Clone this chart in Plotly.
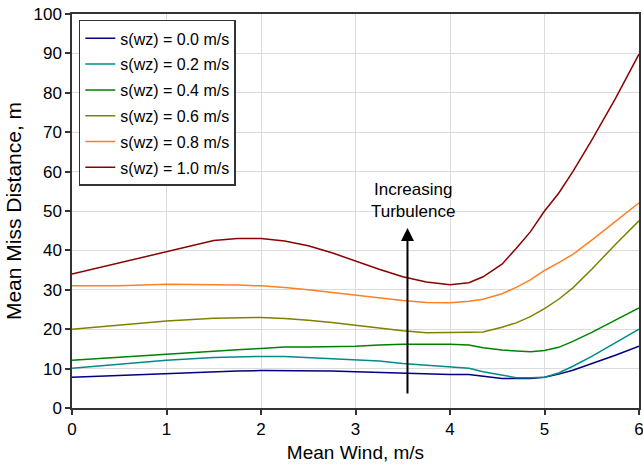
import plotly.graph_objects as go

wind = [0, 0.5, 1, 1.5, 1.75, 2, 2.25, 2.5, 2.75, 3, 3.25, 3.5, 3.75, 4,
        4.2, 4.35, 4.55, 4.7, 4.85, 5, 5.15, 5.3, 5.5, 5.75, 6]

s00 = [7.8, 8.3, 8.8, 9.2, 9.4, 9.5, 9.5, 9.5, 9.4, 9.2, 9.0, 8.8, 8.6, 8.5,
       8.5, 8.1, 7.5, 7.5, 7.5, 7.8, 8.6, 9.6, 11.2, 13.4, 15.7]
s02 = [10.1, 11.1, 12.1, 12.8, 13.0, 13.1, 13.1, 12.8, 12.5, 12.2, 11.9, 11.3, 10.9, 10.6,
       10.1, 9.2, 8.3, 7.7, 7.7, 7.8, 8.9, 10.6, 13.1, 16.5, 20.0]
s04 = [12.1, 12.9, 13.7, 14.5, 14.8, 15.1, 15.5, 15.5, 15.6, 15.7, 16.0, 16.2, 16.2, 16.2,
       16.0, 15.3, 14.7, 14.5, 14.3, 14.6, 15.4, 16.9, 19.2, 22.3, 25.4]
s06 = [20.0, 21.1, 22.1, 22.8, 22.9, 23.0, 22.7, 22.3, 21.7, 21.0, 20.4, 19.6, 19.1, 19.1,
       19.2, 19.3, 20.5, 21.6, 23.2, 25.2, 27.6, 30.5, 35.2, 41.5, 47.5]
s08 = [31.0, 31.0, 31.4, 31.3, 31.2, 31.0, 30.6, 30.0, 29.3, 28.6, 28.0, 27.3, 26.8, 26.7,
       27.1, 27.6, 29.0, 30.6, 32.5, 34.9, 36.9, 39.0, 42.6, 47.3, 52.1]
s10 = [34.0, 36.8, 39.7, 42.5, 43.0, 43.0, 42.4, 41.2, 39.4, 37.2, 35.2, 33.3, 32.0, 31.3,
       31.8, 33.3, 36.5, 40.5, 44.7, 50.0, 54.5, 60.0, 68.0, 78.5, 89.8]

series = [s00, s02, s04, s06, s08, s10]
labels = ["s(wz) = 0.0 m/s", "s(wz) = 0.2 m/s", "s(wz) = 0.4 m/s",
          "s(wz) = 0.6 m/s", "s(wz) = 0.8 m/s", "s(wz) = 1.0 m/s"]
colors = ["#000080", "#008B8B", "#008000", "#808000", "#FF7F27", "#8B0000"]

x_ticks = [0, 1, 2, 3, 4, 5, 6]
y_ticks = [0, 10, 20, 30, 40, 50, 60, 70, 80, 90, 100]

FONT = "Liberation Sans, Arial, sans-serif"

fig = go.Figure()
for i, (vals, lab, col) in enumerate(zip(series, labels, colors)):
    fig.add_trace(go.Scatter(x=wind, y=vals, mode="lines", name=lab,
                             legendgroup=f"g{i}",
                             line=dict(color=col, width=1.5)))

fig.add_annotation(x=3.55, y=45.7, ax=3.55, ay=3.3, xref="x", yref="y",
                   axref="x", ayref="y", text="", showarrow=True,
                   arrowhead=2, arrowsize=1.3, arrowwidth=2, arrowcolor="black")
fig.add_annotation(x=3.61, y=52.6, xref="x", yref="y", text="Increasing<br>Turbulence",
                   showarrow=False, font=dict(family=FONT, size=17, color="black"),
                   align="center")

axis_common = dict(showline=True, mirror=True, linecolor="#333333", linewidth=1.5,
                   ticks="outside", ticklen=5, tickcolor="#333333", tickwidth=1.5,
                   showgrid=True, gridcolor="#dcdcdc", gridwidth=1, zeroline=False,
                   automargin=False, ticklabeloverflow="allow",
                   tickfont=dict(family=FONT, size=17, color="black"))

fig.update_layout(
    width=643, height=464,
    margin=dict(l=72, r=4, t=14, b=56),
    paper_bgcolor="white", plot_bgcolor="white",
    font=dict(family=FONT, color="black"),
    showlegend=True,
    legend=dict(x=0.012, y=0.985, xanchor="left", yanchor="top",
                bgcolor="white", bordercolor="#333333", borderwidth=1.5,
                font=dict(family=FONT, size=16, color="black"),
                tracegroupgap=2),
    xaxis=dict(range=[0, 6], tickvals=x_ticks, ticktext=[str(v) for v in x_ticks],
               title=dict(text="Mean Wind, m/s", font=dict(family=FONT, size=19), standoff=8),
               **axis_common),
    yaxis=dict(range=[0, 100], tickvals=y_ticks, ticktext=[str(v) for v in y_ticks],
               title=dict(text="Mean Miss Distance, m", font=dict(family=FONT, size=21), standoff=6),
               **axis_common),
)

fig.write_html("out.html")
